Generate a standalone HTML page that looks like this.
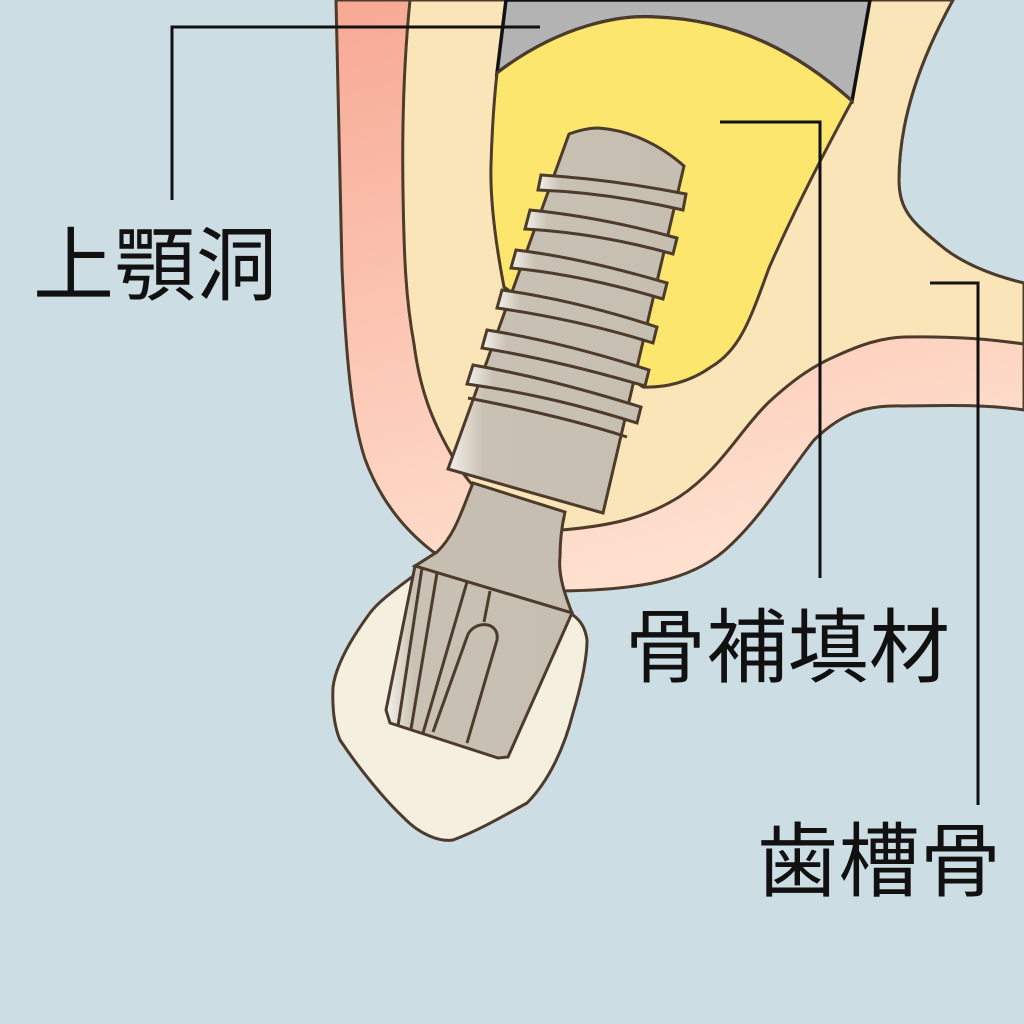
<!DOCTYPE html>
<html><head><meta charset="utf-8"><style>
html,body{margin:0;padding:0;background:#cddde4;}
svg{display:block;}
text{font-family:"Liberation Sans","Noto Sans CJK JP",sans-serif;fill:#111;}
</style></head><body>
<svg width="1024" height="1024" viewBox="0 0 1024 1024" xmlns="http://www.w3.org/2000/svg">
<defs>
<linearGradient id="pk" x1="0" y1="0" x2="0.3" y2="1">
<stop offset="0" stop-color="#f7a994"/><stop offset="1" stop-color="#ffe0cf"/>
</linearGradient>
<linearGradient id="imp" x1="0" y1="0" x2="1" y2="0">
<stop offset="0" stop-color="#f4f1ec"/><stop offset="0.15" stop-color="#c9c1b3"/><stop offset="1" stop-color="#c6beb0"/>
</linearGradient>
</defs>
<rect width="1024" height="1024" fill="#cddde4"/>
<!-- gum -->
<path d="M336,0 C338,100 340,200 342,268 C346,360 352,420 365,459 C380,500 405,530 432,551 L470,575 C510,590 540,595 562,591 C640,590 690,580 724,551 C760,520 790,470 814,440 C845,410 870,405 904,406 C960,405 990,405 1024,410 L1024,283 C990,275 960,262 940,245 C912,222 899,210 899,180 C899,120 920,60 953,0 Z" fill="url(#pk)" stroke="#4d3b2c" stroke-width="3"/>
<!-- bone -->
<path d="M410,0 C404,60 402,130 403,191 C404,260 406,300 414,344 C420,390 432,420 450,452 C470,490 500,520 562,530 C620,525 650,515 679,497 C720,470 740,430 769,402 C795,378 815,365 836,356 C860,345 880,338 904,337 C960,336 995,340 1024,344 L1024,283 C990,275 960,262 940,245 C912,222 899,210 899,180 C899,120 920,60 953,0 Z" fill="#fae5b8" stroke="#4d3b2c" stroke-width="3"/>
<!-- sinus gray -->
<path d="M506,0 L497,73 C560,25 620,15 654,17 C740,20 800,55 852,101 L870,0 Z" fill="#b3b3b3" stroke="#111" stroke-width="3.5"/>
<!-- graft -->
<path d="M497,73 C560,25 620,15 654,17 C740,20 800,55 852,101 C820,160 790,220 769,268 C750,320 740,350 711,367 C690,382 665,388 643,387 L504,287 C495,240 490,200 491,165 C492,130 494,100 497,73 Z" fill="#fce66e" stroke="#4d3b2c" stroke-width="3"/>
<!-- implant body -->
<path d="M569,134 C580,130 590,128 598,128 C630,130 660,145 684,166 L603,513 L448,469 Z" fill="url(#imp)" stroke="#4d3b2c" stroke-width="3"/>
<g fill="url(#imp)" stroke="#4d3b2c" stroke-width="3">
<path d="M541,175 C590,178 640,185 686,194 L683,210 C640,200 590,192 538,190 Z"/>
<path d="M530,210 C580,215 630,225 677,238 L673,254 C630,242 580,232 525,229 Z"/>
<path d="M516,250 C566,256 616,268 667,283 L663,299 C616,285 566,273 511,268 Z"/>
<path d="M502,290 C552,297 602,309 657,327 L653,343 C602,327 552,316 497,308 Z"/>
<path d="M487,330 C537,338 587,350 649,370 L645,386 C587,369 537,357 482,348 Z"/>
<path d="M473,365 C523,374 573,386 641,407 L637,423 C573,403 523,392 467,384 Z"/>
</g>
<path d="M468,398 C520,408 575,420 627,437" fill="none" stroke="#4d3b2c" stroke-width="3"/>
<!-- crown -->
<path d="M417,573 C395,590 380,600 370,613 C350,640 336,665 333,687 C332,710 335,728 340,740 C360,770 385,800 403,817 C420,835 440,842 453,840 C480,830 505,815 527,803 C550,780 565,745 573,713 C580,690 587,660 587,640 C585,625 578,618 570,613 Z" fill="#f5efe0" stroke="#4d3b2c" stroke-width="3"/>
<!-- neck -->
<path d="M473,483 C462,510 455,535 437,552 L415,566 L572,613 C565,595 558,575 560,557 C560,540 562,525 565,512 Z" fill="#c6beb0" stroke="#4d3b2c" stroke-width="3"/>
<!-- abutment -->
<path d="M415,566 L572,613 L508,757 L498,758 L390,723 L386,710 Z" fill="url(#imp)" stroke="#4d3b2c" stroke-width="3"/>
<g fill="none" stroke="#4d3b2c" stroke-width="3">
<line x1="422" y1="568" x2="398" y2="726"/>
<line x1="437" y1="573" x2="411" y2="729"/>
<line x1="467" y1="582" x2="423" y2="733"/>
<line x1="490" y1="591" x2="484" y2="622"/>
<path d="M433,732 L467,637 C472,620 500,620 497,640 L467,743"/>
</g>
<!-- leader lines -->
<g fill="none" stroke="#111" stroke-width="3">
<polyline points="172,200 172,27 540,27"/>
<polyline points="720,122 820,122 820,578"/>
<polyline points="930,283 978,283 978,805"/>
</g>
<text x="33" y="294" font-size="81" textLength="244">上顎洞</text>
<text x="625" y="676" font-size="81" textLength="325">骨補填材</text>
<text x="757" y="890" font-size="81" textLength="244">歯槽骨</text>
</svg>
</body></html>
